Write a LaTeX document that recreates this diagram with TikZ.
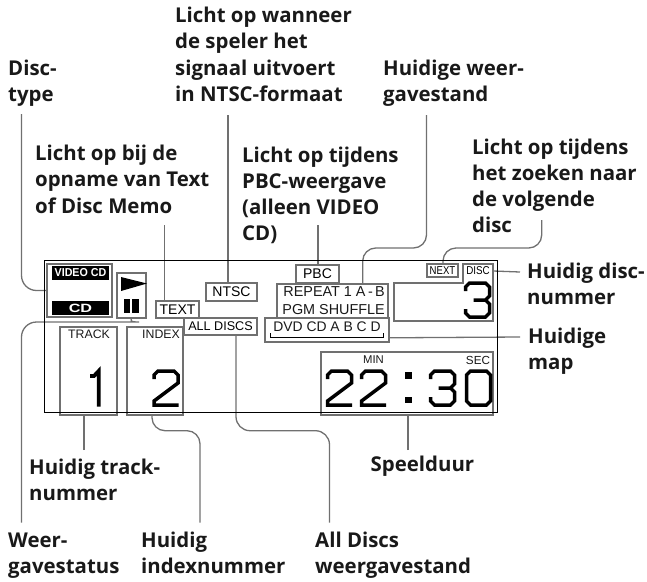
\documentclass[tikz,border=0pt]{standalone}
\usepackage{fontspec}
\usepackage{graphicx}
\setmainfont{Open Sans}
\newfontfamily\lcd{Liberation Sans}
\definecolor{lcdgray}{HTML}{707070}
\newcommand{\lfs}[1]{\lcd\fontsize{#1}{#1}\selectfont}
\newcommand{\firstl}{\rule{0pt}{17pt}}
\tikzset{
  x=1pt,y=-1pt,
  lbl/.style={anchor=north west,yshift=4pt,inner sep=0pt,align=left,font=\bfseries\fontsize{20.4}{26.2}\selectfont,text=black!90},
  conn/.style={draw=lcdgray,line width=1.3pt},
  lcdbox/.style={draw=lcdgray,line width=1.6pt,inner sep=0pt},
  lcdtxt/.style={inner sep=0pt,text=black!90},
  dig/.style={draw=black,line width=3.5pt,line join=miter,line cap=butt},
}
\newcommand{\digzero}[2]{\draw[dig,shift={(#1,#2)}] (4,0)--(20,0)--(24,4)--(24,30)--(20,34)--(4,34)--(0,30)--(0,4)--cycle;}
\newcommand{\digtwo}[2]{\draw[dig,shift={(#1,#2)}] (0,8)--(0,4)--(4,0)--(20,0)--(24,4)--(24,12)--(0,30)--(0,34)--(24.5,34);}
\newcommand{\digthree}[2]{\draw[dig,shift={(#1,#2)}] (0,8)--(0,4)--(4,0)--(20,0)--(24,4)--(24,13)--(20,17)--(8,17) (20,17)--(24,21)--(24,30)--(20,34)--(4,34)--(0,30)--(0,26);}
\begin{document}
\begin{tikzpicture}
\useasboundingbox (0,0) rectangle (647,581);

% labels
\node[lbl] (lDisc) at (8,62) {\firstl Disc-\\type};
\node[lbl] (lNtsc) at (175,9.5) {\firstl Licht op wanneer\\de speler het\\signaal uitvoert\\in NTSC-formaat};
\node[lbl] (lText) at (35,147.5) {\firstl Licht op bij de\\opname van Text\\of Disc Memo};
\node[lbl] (lPbc) at (242,149) {\firstl Licht op tijdens\\PBC-weergave\\(alleen VIDEO\\CD)};
\node[lbl] (lMode) at (383,62) {\firstl Huidige weer-\\gavestand};
\node[lbl] (lNext) at (472,141) {\firstl Licht op tijdens\\het zoeken naar\\de volgende\\disc};
\node[lbl] (lNum) at (527,265) {\firstl Huidig disc-\\nummer};
\node[lbl] (lMap) at (528,330) {\firstl Huidige\\map};
\node[lbl] (lTrack) at (29,461) {\firstl Huidig track-\\nummer};
\node[lbl] (lStat) at (8,534.5) {\firstl Weer-\\gavestatus};
\node[lbl] (lIdx) at (141,534.5) {\firstl Huidig\\indexnummer};
\node[lbl] (lAll) at (315,534.5) {\firstl All Discs\\weergavestand};
\node[lbl] (lTime) at (370.5,458.7) {\firstl Speelduur};

% free ends
\coordinate (eDisc) at (21.5,114);
\coordinate (eStat) at (21.5,522.7);
\coordinate (eText) at (164.7,225);
\coordinate (eNtsc) at (228,115);
\coordinate (ePbc) at (318,225);
\coordinate (eMode) at (426.5,115);
\coordinate (eNext) at (541.7,220);
\coordinate (eNum) at (520,272);
\coordinate (eMap) at (520,337);
\coordinate (eTrack) at (84,450);
\coordinate (eIdx) at (200,522.7);
\coordinate (eAll) at (329.5,522.7);
\coordinate (eTime) at (408,450);

% boxes
\node[lcdbox,minimum width=65,minimum height=53] (cdtype) at (79.5,290.5) {};
\node[inner sep=0pt,fill=black,minimum width=57,minimum height=14,text=white,font={\lcd\bfseries\fontsize{11.5}{12}\selectfont}] (vcd) at (80.5,273) {\scalebox{.93}[1]{VIDEO CD}};
\node[inner sep=0pt,fill=black,minimum width=57,minimum height=14,text=white,font={\lcd\bfseries\fontsize{12}{12}\selectfont}] (cdbar) at (80.5,308) {\scalebox{1.35}[1]{CD}};
\node[lcdbox,minimum width=29,minimum height=45] (play) at (131.5,295.5) {};
\fill[black] (121,277)--(147,283.5)--(121,291)--cycle;
\fill[black] (124,299) rectangle (130,313);
\fill[black] (132,299) rectangle (139,313);

\node[lcdbox,minimum width=43,minimum height=17,font=\lfs{14}] (text) at (177.5,309.5) {TEXT};
\node[lcdbox,minimum width=51,minimum height=18,font=\lfs{14}] (ntsc) at (231.5,292) {NTSC};
\node[lcdbox,minimum width=73,minimum height=17,font=\lfs{12.6}] (all) at (220.5,326.5) {ALL DISCS};
\node[lcdbox,minimum width=57,minimum height=88] (track) at (88.5,371) {};
\node[lcdbox,minimum width=56,minimum height=88] (index) at (155,371) {};
\node[lcdtxt,font=\lfs{12.3}] (tTrack) at (89,334.5) {TRACK};
\node[lcdtxt,font=\lfs{12.3}] (tIndex) at (161,334.5) {INDEX};
\node[lcdbox,minimum width=43,minimum height=18,font=\lfs{14}] (pbc) at (317.5,274) {PBC};
\node[lcdbox,minimum width=111,minimum height=34] (rep) at (332.5,301) {};
\node[lcdtxt,anchor=base east,font=\lfs{14.4}] (tRep) at (385,296.7) {REPEAT 1 A\,-\,B};
\node[lcdtxt,anchor=base east,font=\lfs{14.4}] (tPgm) at (385,314) {PGM SHUFFLE};
\node[lcdbox,minimum width=124,minimum height=24] (dvd) at (327,330) {};
\node[lcdtxt,font=\lfs{13.9}] (tDvd) at (327,327) {DVD CD A B C D};
\draw[black,line width=1pt] (270,333)--(270,337)--(383,337)--(383,333);
\node[lcdbox,minimum width=31,minimum height=13,font=\lfs{11.4}] (next) at (442.5,270.5) {\scalebox{.84}[1]{NEXT}};
\node[inner sep=0pt,minimum width=30,font=\lfs{11.4}] (disc) at (478,271) {\scalebox{.86}[1]{DISC}};
\draw[lcdgray,line width=1.6pt,line join=miter] (463,283)--(463,264)--(493,264)--(493,321)--(394,321)--(394,283)--cycle;
\node[lcdbox,minimum width=172,minimum height=63] (time) at (407,383.5) {};
\node[lcdtxt,font=\lfs{11.3}] (tMin) at (373.5,360) {MIN};
\node[lcdtxt,font=\lfs{11.7}] (tSec) at (478,360) {SEC};

% digits
\draw[dig,line width=3.8pt] (90,376)--(94,376)--(98.7,371)--(98.7,406.7);
\digtwo{154}{371}
\digthree{465.5}{283}
\digtwo{327.5}{371}
\digtwo{361.5}{371}
\fill[black] (405,372) rectangle (412,379);
\fill[black] (405,397) rectangle (412,403);
\digthree{430.5}{371}
\digzero{466.5}{371}

% connectors
\draw[conn,rounded corners=15pt] (eDisc) -- (eDisc |- cdtype.west) -- (cdtype.west);
\draw[conn,rounded corners=15pt] (eStat) -- (21.5,322) -- (124,322) .. controls (129,322) and (131,320.5) .. (131.7,318);
\draw[conn] (eText) -- (eText |- text.north);
\draw[conn] (eNtsc) -- (eNtsc |- ntsc.north);
\draw[conn] (ePbc) -- (ePbc |- pbc.north);
\draw[conn,rounded corners=13pt] (eMode) -- (426.5,248) -- (362.7,248) -- (362.7,284);
\draw[conn,rounded corners=13pt] (eNext) -- (541.7,248) -- (443,248) -- (443,264);
\draw[conn] (disc.east) -- (eNum);
\draw[conn] ([yshift=5pt]dvd.south east) -- (eMap);
\draw[conn] (eTrack) -- (eTrack |- track.south);
\draw[conn,rounded corners=13pt] (eIdx) -- (200,430.7) -- (152,430.7) -- (152,415);
\draw[conn,rounded corners=14pt] (eAll) -- (329.5,430.7) -- (236,430.7) -- (236,335);
\draw[conn] (eTime) -- (eTime |- time.south);

% display border
\node[draw=black,line width=1pt,inner sep=0pt,minimum width=453,minimum height=152] (lcdframe) at (270.5,336) {};
\end{tikzpicture}
\end{document}
